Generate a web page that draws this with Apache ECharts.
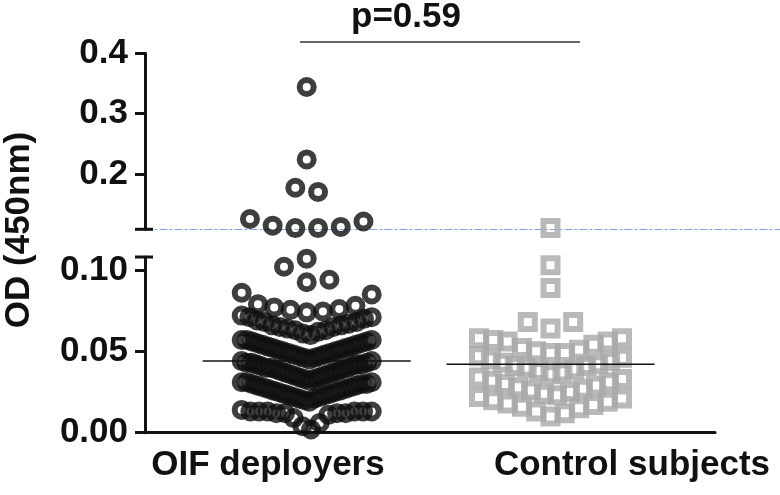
<!DOCTYPE html>
<html><head><meta charset="utf-8">
<script src="https://cdn.jsdelivr.net/npm/echarts@6/dist/echarts.min.js"></script>
<style>html,body{margin:0;padding:0;background:#fff}#c{width:780px;height:495px}</style>
</head><body><div id="c"></div>
<script>
// ---------------- DATA ----------------
const categories = ['OIF deployers', 'Control subjects'];
const oifValues = [
  0.002, 0.004, 0.006, 0.009, 0.011, 0.012, 0.012, 0.012, 0.012, 0.013, 0.013, 0.013, 0.013, 0.013, 0.013, 0.014,
  0.019, 0.020, 0.021, 0.021, 0.022, 0.022, 0.023, 0.023, 0.024, 0.024, 0.025, 0.025, 0.026, 0.026, 0.027, 0.027,
  0.028, 0.028, 0.029, 0.029, 0.030, 0.030, 0.030, 0.031, 0.031, 0.031,
  0.032, 0.033, 0.033, 0.034, 0.034, 0.035, 0.035, 0.036, 0.036, 0.037, 0.037, 0.038, 0.038, 0.039, 0.039, 0.040,
  0.040, 0.040, 0.041, 0.041, 0.042, 0.042, 0.042, 0.043, 0.043, 0.043, 0.044, 0.044,
  0.045, 0.046, 0.046, 0.047, 0.047, 0.048, 0.048, 0.049, 0.049, 0.050, 0.050, 0.051, 0.051, 0.052, 0.052, 0.053,
  0.053, 0.054, 0.054, 0.055, 0.055, 0.056, 0.056, 0.057, 0.057, 0.057,
  0.060, 0.061, 0.062, 0.063, 0.063, 0.064, 0.065, 0.065, 0.066, 0.066, 0.067, 0.068, 0.068, 0.069, 0.070, 0.071,
  0.071, 0.072,
  0.074, 0.0745, 0.0755, 0.076, 0.077, 0.078, 0.079, 0.085, 0.086,
  0.0925, 0.094, 0.102, 0.107,
  0.110, 0.110, 0.112, 0.114, 0.121, 0.125, 0.170, 0.177, 0.224, 0.344
];
const controlValues = [
  0.010, 0.012, 0.013, 0.015, 0.016, 0.017, 0.018, 0.019, 0.020, 0.021, 0.022,
  0.023, 0.024, 0.025, 0.026, 0.027, 0.028, 0.029, 0.030, 0.031, 0.032, 0.033, 0.034,
  0.036, 0.037, 0.038, 0.039, 0.040, 0.041, 0.041, 0.042, 0.043, 0.044, 0.045, 0.046, 0.047,
  0.049, 0.049, 0.050, 0.051, 0.052, 0.054, 0.056, 0.056, 0.057, 0.058, 0.058,
  0.064, 0.068, 0.068,
  0.089, 0.103, 0.110
];
const centerLines = [0.044, 0.042];
const pLabel = 'p=0.59';
const yTitle = 'OD (450nm)';
const upperTicks = [0.2, 0.3, 0.4];
const lowerTicks = [0, 0.05, 0.10];
const breakValue = 0.108;
const upperMax = 0.4;

// ---------------- LAYOUT ----------------
const axisLeft = 145, lowerRightEdge = 715, fullRight = 780;
const upperTop = 53.3, upperBottom = 229.3;
const lowerTop = 257, lowerBottom = 432.7;
const colCenters = [161.7, 405.5];      // px from the y axis
const spreadWidth = [130, 143];
const maxStep = 22.7, rowHeight = 20, lineHalf = 104;
const lowerScale = (lowerBottom - lowerTop) / breakValue;
const upperScale = (upperBottom - upperTop) / (upperMax - breakValue);

function swarm(values, center, width) {
  const lower = [], upper = [];
  const groups = [
    {vals: values.filter(v => v < breakValue).sort((a, b) => a - b), scale: lowerScale, out: lower},
    {vals: values.filter(v => v >= breakValue).sort((a, b) => a - b), scale: upperScale, out: upper}
  ];
  groups.forEach(g => {
    let i = 0;
    while (i < g.vals.length) {
      let j = i;
      while (j < g.vals.length && (g.vals[j] - g.vals[i]) * g.scale < rowHeight) j++;
      const row = g.vals.slice(i, j);
      const n = row.length;
      const step = n > 1 ? Math.min(maxStep, width / (n - 1)) : 0;
      row.forEach((v, k) => {
        let off;
        if (n % 2) { const m = Math.ceil(k / 2); off = (k % 2 ? m : -m); }
        else { const m = Math.floor(k / 2) + 0.5; off = (k % 2 ? -m : m); }
        g.out.push([center + off * step, v]);
      });
      i = j;
    }
  });
  return {lower, upper};
}

const oif = swarm(oifValues, colCenters[0], spreadWidth[0]);
const ctrl = swarm(controlValues, colCenters[1], spreadWidth[1]);

const FONT = '"Liberation Sans", Arial, sans-serif';
const ink = '#111';
const ringStyle = {color: 'rgba(0,0,0,0)', borderColor: '#0e0e0e', borderWidth: 6};
const squareStyle = {color: 'rgba(0,0,0,0)', borderColor: '#a7a7a7', borderWidth: 6};

const chart = echarts.init(document.getElementById('c'), null, {renderer: 'canvas'});
const option = {
  animation: false,
  backgroundColor: '#fff',
  grid: [
    {left: axisLeft, right: 0, top: upperTop, height: upperBottom - upperTop},
    {left: axisLeft, right: fullRight - lowerRightEdge, top: lowerTop, height: lowerBottom - lowerTop}
  ],
  xAxis: [
    {gridIndex: 0, type: 'value', min: 0, max: fullRight - axisLeft,
     axisLine: {show: true, lineStyle: {color: '#7fa6dc', width: 1.2, type: [7, 3, 2, 3]}},
     axisTick: {show: false}, axisLabel: {show: false}, splitLine: {show: false}},
    {gridIndex: 1, type: 'value', min: 0, max: lowerRightEdge - axisLeft,
     axisLine: {show: true, onZero: false, lineStyle: {color: ink, width: 3}},
     axisTick: {show: false}, axisLabel: {show: false}, splitLine: {show: false}}
  ],
  yAxis: [
    {gridIndex: 0, type: 'value', min: breakValue, max: upperMax,
     axisLine: {show: true, lineStyle: {color: ink, width: 3}},
     axisTick: {show: true, length: 10, customValues: upperTicks, lineStyle: {color: ink, width: 3}},
     axisLabel: {customValues: upperTicks, formatter: v => v.toFixed(1), margin: 17,
                 fontSize: 35, fontWeight: 'bold', fontFamily: FONT, color: ink},
     splitLine: {show: false}},
    {gridIndex: 1, type: 'value', min: 0, max: breakValue,
     axisLine: {show: true, lineStyle: {color: ink, width: 3}},
     axisTick: {show: true, length: 10, customValues: lowerTicks, lineStyle: {color: ink, width: 3}},
     axisLabel: {customValues: lowerTicks, formatter: v => v.toFixed(2), margin: 17,
                 fontSize: 35, fontWeight: 'bold', fontFamily: FONT, color: ink},
     splitLine: {show: false}}
  ],
  series: [
    {type: 'scatter', name: categories[0], xAxisIndex: 1, yAxisIndex: 1, data: oif.lower, symbol: 'circle',
     symbolSize: 14, itemStyle: ringStyle, clip: false, silent: true, z: 3},
    {type: 'scatter', name: categories[0], xAxisIndex: 0, yAxisIndex: 0, data: oif.upper, symbol: 'circle',
     symbolSize: 14, itemStyle: ringStyle, clip: false, silent: true, z: 3},
    {type: 'scatter', name: categories[1], xAxisIndex: 1, yAxisIndex: 1, data: ctrl.lower, symbol: 'rect',
     symbolSize: 14, itemStyle: squareStyle, clip: false, silent: true, z: 3},
    {type: 'scatter', name: categories[1], xAxisIndex: 0, yAxisIndex: 0, data: ctrl.upper, symbol: 'rect',
     symbolSize: 14, itemStyle: squareStyle, clip: false, silent: true, z: 3},
    {type: 'line', xAxisIndex: 1, yAxisIndex: 1, symbol: 'none', silent: true, z: 5,
     data: [[colCenters[0] - lineHalf, centerLines[0]], [colCenters[0] + lineHalf, centerLines[0]]],
     lineStyle: {color: '#111', width: 1.5}},
    {type: 'line', xAxisIndex: 1, yAxisIndex: 1, symbol: 'none', silent: true, z: 5,
     data: [[colCenters[1] - lineHalf, centerLines[1]], [colCenters[1] + lineHalf, centerLines[1]]],
     lineStyle: {color: '#111', width: 1.5}}
  ],
  graphic: [
    {type: 'line', shape: {x1: axisLeft - 10, y1: upperBottom, x2: axisLeft + 8, y2: upperBottom},
     style: {stroke: ink, lineWidth: 3}, z: 10},
    {type: 'line', shape: {x1: axisLeft - 10, y1: lowerTop, x2: axisLeft + 8, y2: lowerTop},
     style: {stroke: ink, lineWidth: 3}, z: 10},
    {type: 'line', shape: {x1: 300, y1: 42, x2: 580, y2: 42}, style: {stroke: '#333', lineWidth: 1.5}},
    {type: 'text', x: 406, y: 17, style: {text: pLabel, fill: ink, font: 'bold 35px ' + FONT,
     textAlign: 'center', textVerticalAlign: 'middle'}},
    {type: 'text', x: 268, y: 465, style: {text: categories[0], fill: ink, font: 'bold 35px ' + FONT,
     textAlign: 'center', textVerticalAlign: 'middle'}},
    {type: 'text', x: 632, y: 465, style: {text: categories[1], fill: ink, font: 'bold 35px ' + FONT,
     textAlign: 'center', textVerticalAlign: 'middle'}},
    {type: 'text', x: 19, y: 230, rotation: Math.PI / 2, style: {text: yTitle, fill: ink, font: 'bold 35px ' + FONT,
     textAlign: 'center', textVerticalAlign: 'middle'}}
  ]
};
chart.setOption(option);
</script>
</body></html>
